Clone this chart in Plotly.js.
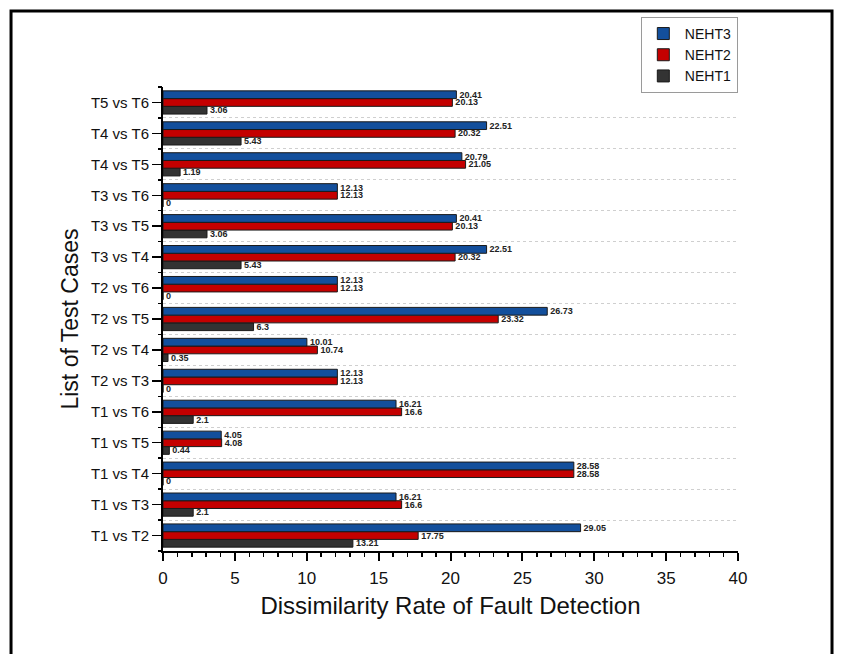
<!DOCTYPE html>
<html>
<head>
<meta charset="utf-8">
<script src="https://cdn.plot.ly/plotly-3.0.1.min.js"></script>
<style>
html,body{margin:0;padding:0;background:#fff;}
#chart{width:844px;height:654px;}
</style>
</head>
<body>
<div id="chart"></div>
<script>
// Categories from bottom to top
const categories = ["T1 vs T2","T1 vs T3","T1 vs T4","T1 vs T5","T1 vs T6",
  "T2 vs T3","T2 vs T4","T2 vs T5","T2 vs T6","T3 vs T4","T3 vs T5","T3 vs T6",
  "T4 vs T5","T4 vs T6","T5 vs T6"];
const neht3 = [29.05,16.21,28.58,4.05,16.21,12.13,10.01,26.73,12.13,22.51,20.41,12.13,20.79,22.51,20.41];
const neht2 = [17.75,16.6,28.58,4.08,16.6,12.13,10.74,23.32,12.13,20.32,20.13,12.13,21.05,20.32,20.13];
const neht1 = [13.21,2.1,0,0.44,2.1,0,0.35,6.3,0,5.43,3.06,0,1.19,5.43,3.06];
const seriesNames = ["NEHT1","NEHT2","NEHT3"];
const seriesColors = ["#333333","#C40000","#134F9C"];
const xTicks = [0,5,10,15,20,25,30,35,40];

const FONT = "Arial, 'Liberation Sans', sans-serif";

function barTrace(vals, i){
  return {
    type:"bar", orientation:"h",
    x: vals, y: categories,
    name: seriesNames[i],
    marker:{color: seriesColors[i], line:{color:"#1a1a1a", width:1}},
    texttemplate:"%{x}",
    textposition:"outside",
    constraintext:"none",
    cliponaxis:false,
    textfont:{family:FONT, size:9, color:"#222", weight:"bold"},
    hoverinfo:"x+name"
  };
}

const data = [barTrace(neht1,0), barTrace(neht2,1), barTrace(neht3,2),
  {type:"scatter", x:[], y:[], yaxis:"y2", showlegend:false, hoverinfo:"skip"}];

const layout = {
  width:844, height:654,
  paper_bgcolor:"#fff", plot_bgcolor:"#fff",
  margin:{l:163, r:106, t:87, b:103, pad:0},
  barmode:"group", bargap:0.25, bargroupgap:0,
  showlegend:true,
  legend:{
    x:0.831, y:1.151, xanchor:"left", yanchor:"top",
    traceorder:"reversed",
    bordercolor:"#9a9a9a", borderwidth:1, bgcolor:"#fff",
    font:{family:FONT, size:14, color:"#111"},
    itemwidth:33, tracegroupgap:0
  },
  xaxis:{
    range:[0,40], tickvals:xTicks, ticktext:xTicks.map(String),
    showgrid:false, zeroline:false,
    showline:true, linecolor:"#000", linewidth:2,
    ticks:"outside", ticklen:8, tickwidth:2, tickcolor:"#000",
    ticklabelstandoff:3,
    minor:{dtick:1, ticks:"outside", ticklen:4, tickwidth:1.5, tickcolor:"#000", showgrid:false},
    tickfont:{family:FONT, size:17, color:"#111"},
    title:{text:"Dissimilarity Rate of Fault Detection", font:{family:FONT, size:24, color:"#111"}, standoff:10},
    fixedrange:true
  },
  yaxis:{
    type:"category", categoryorder:"array", categoryarray:categories,
    range:[-0.5,14.5],
    showgrid:false, zeroline:false,
    showline:true, linecolor:"#000", linewidth:2,
    ticks:"outside", ticklen:9, tickwidth:1.5, tickcolor:"#000",
    tickfont:{family:FONT, size:15, color:"#111"},
    title:{text:"List of Test Cases", font:{family:FONT, size:23, color:"#111"}, standoff:6},
    fixedrange:true
  },
  yaxis2:{
    overlaying:"y", side:"left", anchor:"x",
    range:[-0.5,14.5], tick0:-0.5, dtick:1,
    showticklabels:false, showline:false, zeroline:false,
    ticks:"outside", ticklen:4, tickwidth:1.5, tickcolor:"#000",
    showgrid:true, gridcolor:"#cfcfcf", gridwidth:1, griddash:"dot",
    fixedrange:true
  },
  shapes:[{
    type:"rect", xref:"paper", yref:"paper",
    x0:-0.2643, x1:1.1635, y0:-0.30, y1:1.1638,
    line:{color:"#000", width:3}, fillcolor:"rgba(0,0,0,0)", layer:"above"
  }]
};

Plotly.newPlot("chart", data, layout, {displayModeBar:false, staticPlot:true});
</script>
</body>
</html>
